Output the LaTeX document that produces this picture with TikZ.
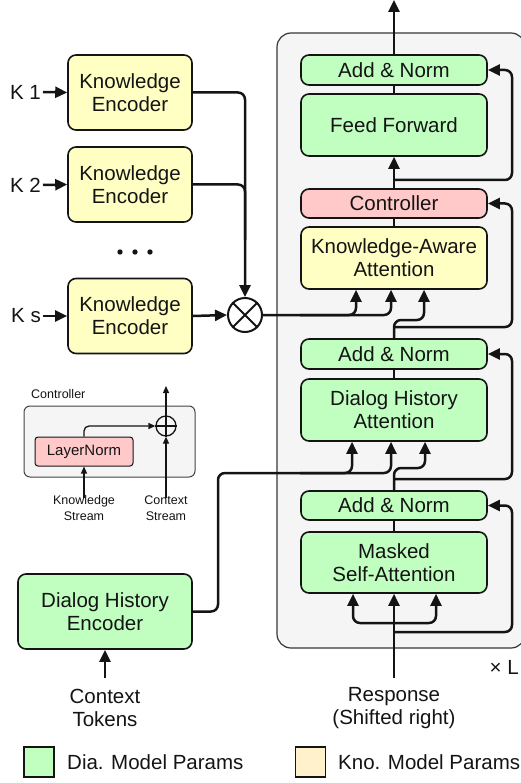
\documentclass[tikz,border=0pt]{standalone}
\usepackage{fontspec}
\setmainfont{Liberation Sans}
\usetikzlibrary{arrows.meta,calc}
\definecolor{diag}{HTML}{C0FFC0}
\definecolor{knoc}{HTML}{FFFFC3}
\definecolor{creamc}{HTML}{FFF1CC}
\definecolor{ctlpink}{HTML}{FFC9C9}
\definecolor{bggray}{HTML}{F5F5F5}
\definecolor{ink}{HTML}{141414}
\begin{document}
\begin{tikzpicture}[x=1pt,y=-1pt,
  font=\fontsize{20.5}{23}\selectfont,
  every node/.style={text=ink},
  box/.style={draw=ink, line width=1.6pt, rounded corners=8pt, align=center, inner sep=0pt},
  dia/.style={box, fill=diag},
  kno/.style={box, fill=knoc},
  ctlc/.style={box, fill=ctlpink},
  conn/.style={draw=ink, line width=2.5pt, -{Triangle[length=12pt,width=11pt]}, rounded corners=7pt},
  wire/.style={draw=ink, line width=2.5pt, rounded corners=7pt},
  thinarr/.style={draw=ink, line width=1.3pt, -{Triangle[length=7pt,width=6pt]}, rounded corners=5pt},
  small/.style={font=\fontsize{12.5}{16}\selectfont, align=center, inner sep=0pt}
]
\useasboundingbox (0,0) rectangle (521,783);

% ---------- decoder block ----------
\node[draw=ink!85, line width=1.2pt, fill=bggray, rounded corners=14pt,
      minimum width=248pt, minimum height=615pt] (blk) at (401,340.5) {};

\node[dia, minimum width=186pt, minimum height=30pt] (an3) at (394,70) {Add \& Norm};
\node[dia, minimum width=186pt, minimum height=62pt] (ff) at (394,125) {Feed Forward};
\node[ctlc, minimum width=186pt, minimum height=29pt] (ctl) at (394,203.5) {Controller};
\node[kno, minimum width=186pt, minimum height=62pt] (kaa) at (394,258) {Knowledge-Aware\\Attention};
\node[dia, minimum width=186pt, minimum height=30pt] (an2) at (394,354) {Add \& Norm};
\node[dia, minimum width=186pt, minimum height=62pt] (dha) at (394,410) {Dialog History\\Attention};
\node[dia, minimum width=186pt, minimum height=29pt] (an1) at (394,505.5) {Add \& Norm};
\node[dia, minimum width=186pt, minimum height=61pt] (msa) at (394,562.5) {Masked\\Self-Attention};

\coordinate (top) at (394,0);
\coordinate (resp) at (394,678);

% top part
\draw[conn] (an3.north) -- (top);
\draw[wire] (an3.south) -- (ff.north);
\draw[conn] (ctl.north) -- (ff.south);
\draw[conn] (394,180) -- (512,180) -- (512,70) -- (an3.east);
\draw[wire] (ctl.south) -- (kaa.north);

% knowledge-aware attention inputs
\draw[conn] (an2.north) -- (394,320) -- (424,320) -- ([xshift=30pt]kaa.south);
\draw[conn] (394,327) -- (512,327) -- (512,203.5) -- (ctl.east);

% dialog history attention
\draw[wire] (an2.south) -- (dha.north);
\draw[conn] (an1.north) -- (394,468) -- (425,468) -- ([xshift=31pt]dha.south);
\draw[conn] (394,479) -- (512,479) -- (512,354) -- (an2.east);

% masked self-attention
\draw[wire] (an1.south) -- (msa.north);
\draw[conn] (resp) -- (msa.south);
\draw[conn] (394,623) -- (353,623) -- ([xshift=-41pt]msa.south);
\draw[conn] (394,623) -- (436,623) -- ([xshift=42pt]msa.south);
\draw[conn] (394,632) -- (512,632) -- (512,505.5) -- (an1.east);

\node[align=center, inner sep=0pt] (resplbl) at (394,708) {Response\\(Shifted right)};
\node[anchor=east, inner sep=0pt] (xl) at (519,667) {× L};

% ---------- knowledge encoders ----------
\node[kno, minimum width=124pt, minimum height=75pt] (ke1) at (130,92.5) {Knowledge\\Encoder};
\node[kno, minimum width=124pt, minimum height=75pt] (ke2) at (130,184.5) {Knowledge\\Encoder};
\node[kno, minimum width=124pt, minimum height=75pt] (kes) at (130,316) {Knowledge\\Encoder};

\node[anchor=east, inner sep=2pt] (k1) at (43,92) {K 1};
\node[anchor=east, inner sep=2pt] (k2) at (43,185) {K 2};
\node[anchor=east, inner sep=2pt] (ks) at (43,316) {K s};
\draw[conn] (k1.east) -- (ke1.west);
\draw[conn] (k2.east) -- (ke2.west);
\draw[conn] (ks.east) -- (kes.west);

\fill[ink] (120,252) circle[radius=2.7pt] (135,252) circle[radius=2.7pt] (150,252) circle[radius=2.7pt];

\node[draw=ink, circle, line width=2pt, minimum size=34pt, inner sep=0pt] (ot) at (245,315) {};
\draw[ink, line width=2pt] (ot.45) -- (ot.225) (ot.135) -- (ot.315);

\draw[conn] (ke1.east) -| (ot.north);
\draw[wire] (ke2.east) -| (245,240);
\draw[conn] (kes.east) -- (ot.west);
\draw[conn] (ot.east) -- (356,315) -- ([xshift=-38pt]kaa.south);
\draw[conn] (300,315) -- (391,315) -- ([xshift=-3pt]kaa.south);

% ---------- controller inset ----------
\node[draw=ink!80, line width=1pt, fill=bggray, rounded corners=6pt,
      minimum width=171pt, minimum height=71pt] (cbox) at (109.5,441.5) {};
\node[small, anchor=west] (ctitle) at (31,394) {Controller};
\node[draw=ink, line width=1pt, fill=ctlpink, rounded corners=3pt, inner sep=0pt,
      minimum width=98pt, minimum height=29pt, font=\fontsize{15}{18}\selectfont] (ln) at (84,451.5) {LayerNorm};
\node[draw=ink, circle, line width=1.3pt, minimum size=20pt, inner sep=0pt] (op) at (166,426) {};
\draw[ink, line width=1.3pt] (op.north) -- (op.south) (op.west) -- (op.east);
\coordinate (outc) at (166,386);
\draw[thinarr] (op.north) -- (outc);
\draw[thinarr] (ln.north) |- (op.west);
\node[small] (kstream) at (84,508) {Knowledge\\Stream};
\node[small] (cstream) at (166,508) {Context\\Stream};
\draw[thinarr] ([yshift=-3pt]kstream.north) -- (ln.south);
\draw[thinarr] ([yshift=-3pt]cstream.north) -- (op.south);

% ---------- dialog history encoder ----------
\node[dia, minimum width=174pt, minimum height=75pt] (dhe) at (105,611.5) {Dialog History\\Encoder};
\draw[conn] (dhe.east) -| (218,473) -- (352,473) -- ([xshift=-42pt]dha.south);
\draw[conn] (300,473) -- (391,473) -- ([xshift=-3pt]dha.south);
\coordinate (ctxin) at (105,678);
\draw[conn] (ctxin) -- (dhe.south);
\node[align=center, inner sep=0pt] (ctx) at (105,708) {Context\\Tokens};

% ---------- legend ----------
\node[draw=ink, line width=1.2pt, fill=diag, minimum size=30pt, inner sep=0pt] (lg1) at (39,762) {};
\node[anchor=west, inner sep=0pt] (lt1) at (67,762) {Dia. Model Params};
\node[draw=ink, line width=1.2pt, fill=creamc, minimum size=30pt, inner sep=0pt] (lg2) at (310.5,762) {};
\node[anchor=west, inner sep=0pt] (lt2) at (338,762) {Kno. Model Params};
\end{tikzpicture}
\end{document}
